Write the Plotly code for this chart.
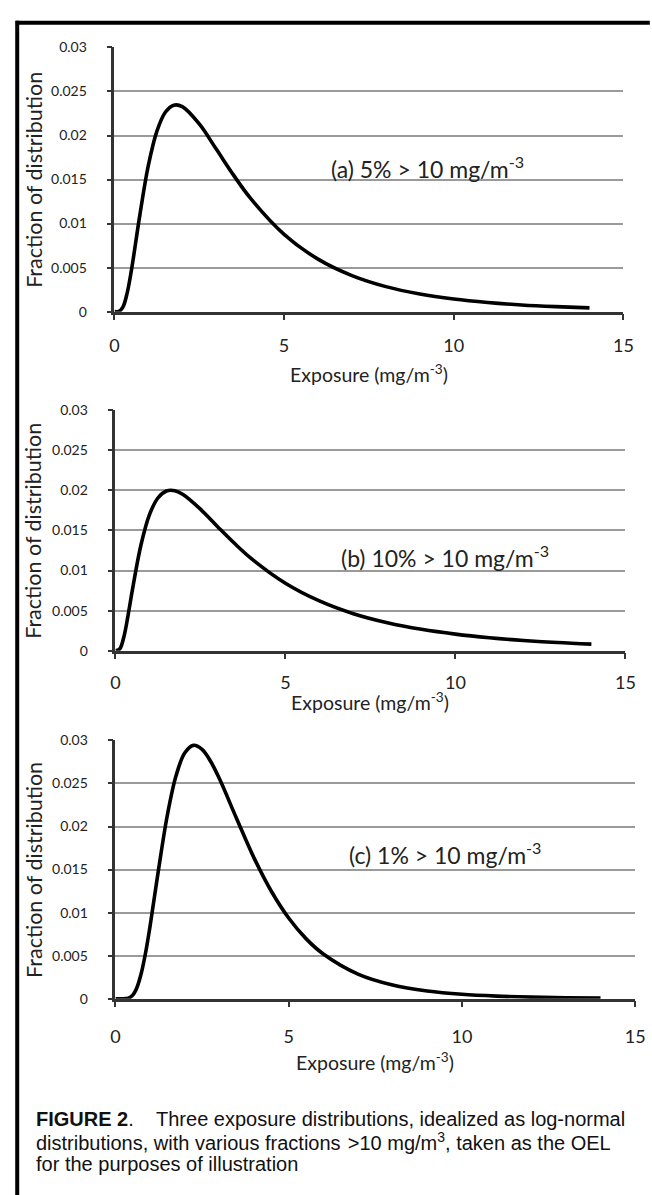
import plotly.graph_objects as go

# ---------------- data ----------------
x_a = [0, 0.125, 0.25, 0.375, 0.5, 0.75, 1.0, 1.25, 1.5, 1.75, 2.0, 2.5, 3, 3.5, 4, 5, 6, 7, 8, 9,
       10, 11, 12, 13, 14]
y_a = [0, 0.00002, 0.00052, 0.00211, 0.00468, 0.01099, 0.01660, 0.02047, 0.02264, 0.02344, 0.02328,
       0.02131, 0.01846, 0.01556, 0.01292, 0.00878, 0.00596, 0.00409, 0.00284, 0.00200, 0.00143,
       0.00104, 0.00076, 0.00057, 0.00043]

x_b = [0, 0.125, 0.25, 0.375, 0.5, 0.75, 1.0, 1.25, 1.5, 1.75, 2.0, 2.5, 3, 3.5, 4, 5, 6, 7, 8, 9,
       10, 11, 12, 13, 14]
y_b = [0, 0.00021, 0.00175, 0.00448, 0.00759, 0.01316, 0.01695, 0.01905, 0.01992, 0.01996, 0.01946,
       0.01766, 0.01550, 0.01340, 0.01149, 0.00842, 0.00621, 0.00462, 0.00349, 0.00267, 0.00207,
       0.00162, 0.00128, 0.00102, 0.00082]

x_c = [0, 0.25, 0.375, 0.5, 0.625, 0.75, 0.875, 1.0, 1.25, 1.5, 1.75, 2.0, 2.25, 2.5, 2.75, 3, 3.5,
       4, 4.5, 5, 5.5, 6, 7, 8, 9, 10, 11, 12, 13, 14]
y_c = [0, 0, 0.00007, 0.00042, 0.00134, 0.00301, 0.00543, 0.00842, 0.01514, 0.02134, 0.02590,
       0.02854, 0.02943, 0.02897, 0.02756, 0.02557, 0.02091, 0.01636, 0.01248, 0.00937, 0.00698,
       0.00519, 0.00286, 0.00159, 0.00090, 0.00051, 0.00030, 0.00018, 0.00011, 0.00007]

panel_labels = ["(a) 5% > 10 mg/m<sup>-3</sup>",
                "(b) 10% > 10 mg/m<sup>-3</sup>",
                "(c) 1% > 10 mg/m<sup>-3</sup>"]
x_tick_vals = [0, 5, 10, 15]
x_tick_text = ["0", "5", "10", "15"]
y_tick_vals = [0, 0.005, 0.01, 0.015, 0.02, 0.025, 0.03]
y_tick_text = ["0", "0.005", "0.01", "0.015", "0.02", "0.025", "0.03"]
x_title = "Exposure (mg/m<sup>-3</sup>)"
y_title = "Fraction of distribution"
caption_lines = [
    "<b>FIGURE 2</b>.\u00a0\u00a0\u00a0\u00a0Three exposure distributions, idealized as log-normal",
    "distributions, with various fractions \u200a>10 mg/m<sup>3</sup>, taken as the OEL",
    "for the purposes of illustration",
]

# ---------------- layout (pixel geometry) ----------------
W, H = 652, 1195
def fx(p):
    return p / W
def fy(p):
    return 1 - p / H

# (x_left, x_right, y_top, y_bottom) of each plot area in pixels
panels = [(112, 633, 39, 307), (113, 635, 407, 651), (113, 645, 742, 1004)]
xtitle_y = [370, 702, 1068]
xtick_standoff = [10, 8, 14]
label_pos = [(332, 161), (342, 555), (350, 857)]
caption_y = [1126, 1149, 1172]

CHART_FONT = "Lato, Calibri, Carlito, sans-serif"
CAP_FONT = "Liberation Sans, Arial, Helvetica, sans-serif"
AX = "#333333"
TXT = "#222222"

fig = go.Figure()
series = [(x_a, y_a), (x_b, y_b), (x_c, y_c)]
for i, (xs, ys) in enumerate(series):
    sfx = "" if i == 0 else str(i + 1)
    fig.add_trace(go.Scatter(
        x=xs, y=ys, mode="lines",
        line=dict(color="black", width=3.6, shape="spline", smoothing=1.0),
        xaxis="x" + sfx, yaxis="y" + sfx, showlegend=False, hoverinfo="skip"))

layout = dict(
    width=W, height=H,
    margin=dict(l=0, r=0, t=0, b=0),
    paper_bgcolor="white", plot_bgcolor="white",
    showlegend=False,
    font=dict(family=CHART_FONT, color=TXT),
)
annotations = []
shapes = []
for i, (xl, xr, yt, yb) in enumerate(panels):
    sfx = "" if i == 0 else str(i + 1)
    layout["xaxis" + sfx] = dict(
        domain=[fx(xl), fx(xr)], anchor="y" + sfx, range=[0, 15],
        tickvals=x_tick_vals, ticktext=x_tick_text,
        showline=True, linecolor=AX, linewidth=2.5,
        ticks="outside", ticklen=6, tickwidth=2, tickcolor=AX,
        showgrid=False, zeroline=False,
        tickfont=dict(family=CHART_FONT, size=18, color=TXT),
        ticklabelstandoff=xtick_standoff[i],
    )
    layout["yaxis" + sfx] = dict(
        domain=[fy(yb), fy(yt)], anchor="x" + sfx, range=[0, 0.03],
        tickvals=y_tick_vals, ticktext=y_tick_text,
        showline=True, linecolor=AX, linewidth=2.5,
        ticks="outside", ticklen=5, tickwidth=2, tickcolor=AX,
        showgrid=True, gridcolor="#9a9a9a", gridwidth=1.5,
        zeroline=False,
        tickfont=dict(family=CHART_FONT, size=14, color=TXT),
        ticklabelstandoff=17,
    )
    annotations.append(dict(
        text=x_title, xref="paper", yref="paper",
        x=fx((xl + xr) / 2), y=fy(xtitle_y[i]), xanchor="center", yanchor="middle",
        showarrow=False, font=dict(family=CHART_FONT, size=19.5, color=TXT)))
    annotations.append(dict(
        text=y_title, xref="paper", yref="paper", textangle=-90,
        x=fx(29), y=fy((yt + yb) / 2), xanchor="center", yanchor="middle",
        showarrow=False, font=dict(family=CHART_FONT, size=21.5, color=TXT)))
    lx, ly = label_pos[i]
    annotations.append(dict(
        text=panel_labels[i], xref="paper", yref="paper",
        x=fx(lx), y=fy(ly), xanchor="left", yanchor="middle",
        showarrow=False, font=dict(family=CHART_FONT, size=23, color=TXT)))

for line, cy in zip(caption_lines, caption_y):
    annotations.append(dict(
        text=line, xref="paper", yref="paper", x=fx(30), y=fy(cy),
        xanchor="left", yanchor="middle", align="left", showarrow=False,
        font=dict(family=CAP_FONT, size=20, color="#111111")))

# figure frame (top and left rules)
shapes.append(dict(type="line", xref="paper", yref="paper",
                   x0=fx(11), x1=fx(660), y0=fy(14), y1=fy(14),
                   line=dict(color="black", width=4)))
shapes.append(dict(type="line", xref="paper", yref="paper",
                   x0=fx(12.5), x1=fx(12.5), y0=fy(12), y1=fy(1210),
                   line=dict(color="black", width=4)))

layout["annotations"] = annotations
layout["shapes"] = shapes
fig.update_layout(**layout)

fig.write_html("out.html", config={"displayModeBar": False},
               post_script="document.body.style.margin='0';")
